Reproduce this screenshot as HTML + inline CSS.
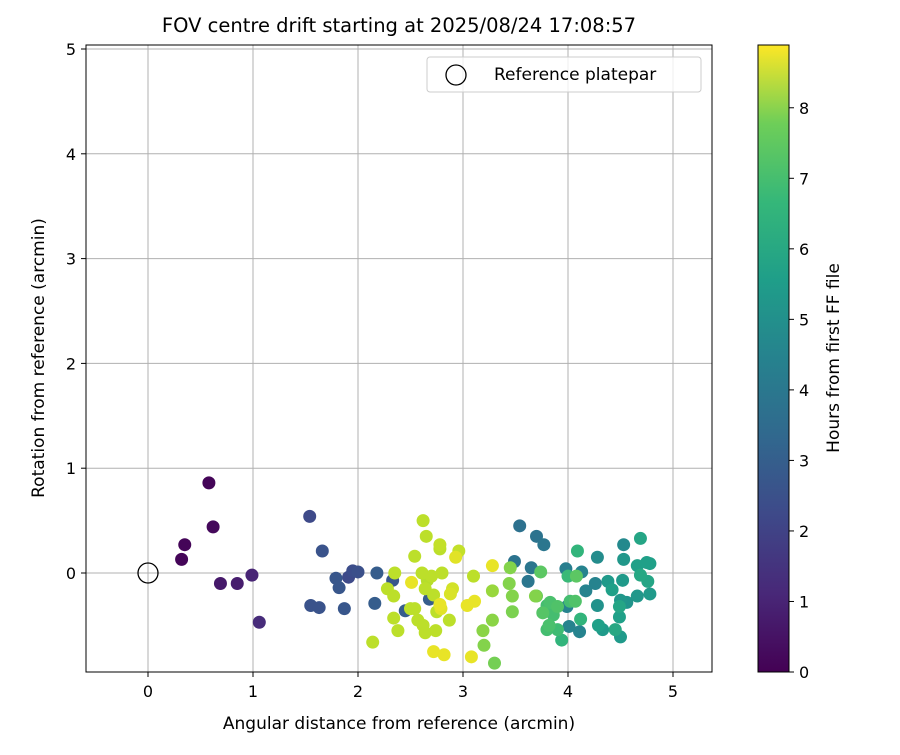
<!DOCTYPE html>
<html><head><meta charset="utf-8"><style>
body{margin:0;background:#fff;font-family:"Liberation Sans","DejaVu Sans",sans-serif}
svg text{font-family:"DejaVu Sans","Liberation Sans",sans-serif;fill:#000}
</style></head><body>
<svg id="chart" width="900" height="750">
<defs><linearGradient id="vir" x1="0" y1="1" x2="0" y2="0">
<stop offset="0" stop-color="#440154"/><stop offset="0.125" stop-color="#482878"/><stop offset="0.25" stop-color="#3e4989"/><stop offset="0.375" stop-color="#31688e"/><stop offset="0.5" stop-color="#26828e"/><stop offset="0.625" stop-color="#1f9e89"/><stop offset="0.75" stop-color="#35b779"/><stop offset="0.875" stop-color="#6ece58"/><stop offset="1" stop-color="#fde725"/></linearGradient></defs>
<text x="399" y="32" text-anchor="middle" font-size="19.5">FOV centre drift starting at 2025/08/24 17:08:57</text>
<g id="grid"></g>
<g id="pts"></g>
<rect x="86" y="45" width="626" height="627" fill="none" stroke="#000" stroke-width="1"/>
<g id="ticks"></g>
<text x="399" y="729" text-anchor="middle" font-size="17">Angular distance from reference (arcmin)</text>
<text transform="translate(44,358) rotate(-90)" text-anchor="middle" font-size="17">Rotation from reference (arcmin)</text>
<g>
<rect x="427" y="57" width="274" height="35" rx="3" fill="#fff" fill-opacity="0.8" stroke="#ccc"/>
<circle cx="456" cy="75" r="10" fill="none" stroke="#000" stroke-width="1.3"/>
<text x="494" y="80" font-size="17">Reference platepar</text>
</g>
<rect x="758" y="45" width="31" height="627" fill="url(#vir)" stroke="#000" stroke-width="1"/>
<g id="cbt"></g>
<text transform="translate(839,358) rotate(-90)" text-anchor="middle" font-size="17">Hours from first FF file</text>
</svg>
<script>
const xTicks=[0,1,2,3,4,5];
const yTicks=[0,1,2,3,4,5];
const cbTicks=[0,1,2,3,4,5,6,7,8];
const xs=[0.58,0.62,0.35,0.32,0.69,0.85,0.99,1.06,1.54,1.66,1.79,1.82,1.91,1.95,2.0,1.55,1.63,1.87,2.18,2.16,2.33,2.68,2.45,
2.62,2.65,2.78,2.78,2.96,2.93,2.54,3.28,3.45,3.49,3.65,3.54,3.70,2.35,2.61,2.70,2.80,2.51,2.66,3.10,3.44,3.62,2.28,2.34,2.64,2.72,2.90,2.88,3.28,3.47,3.69,3.11,3.04,2.78,2.79,2.50,2.54,2.75,3.47,2.34,2.57,2.62,2.87,3.28,2.38,2.64,2.74,3.19,2.14,3.20,2.72,2.82,3.08,3.30,
3.77,4.09,4.28,4.53,4.69,4.53,3.74,3.98,4.13,4.0,4.08,4.26,4.38,4.52,4.66,4.75,4.78,4.69,4.76,4.78,4.66,3.70,4.17,4.42,4.50,4.56,3.83,4.02,4.07,3.99,4.28,3.80,3.76,3.90,3.86,4.49,4.49,4.12,3.82,4.29,4.33,4.45,4.01,4.11,3.80,3.90,4.50,3.94];
const ys=[0.86,0.44,0.27,0.13,-0.10,-0.10,-0.02,-0.47,0.54,0.21,-0.05,-0.14,-0.04,0.02,0.01,-0.31,-0.33,-0.34,0.0,-0.29,-0.07,-0.25,-0.36,
0.50,0.35,0.27,0.23,0.21,0.15,0.16,0.07,0.05,0.11,0.05,0.45,0.35,0.0,0.0,-0.03,0.0,-0.09,-0.07,-0.03,-0.10,-0.08,-0.15,-0.22,-0.15,-0.21,-0.15,-0.20,-0.17,-0.22,-0.22,-0.27,-0.31,-0.30,-0.34,-0.34,-0.34,-0.37,-0.37,-0.43,-0.45,-0.50,-0.45,-0.45,-0.55,-0.57,-0.55,-0.55,-0.66,-0.69,-0.75,-0.78,-0.80,-0.86,
0.27,0.21,0.15,0.27,0.33,0.13,0.01,0.04,0.01,-0.03,-0.03,-0.10,-0.08,-0.07,0.07,0.10,0.09,-0.02,-0.08,-0.20,-0.22,-0.22,-0.17,-0.16,-0.26,-0.28,-0.28,-0.27,-0.27,-0.32,-0.31,-0.31,-0.38,-0.32,-0.40,-0.32,-0.42,-0.44,-0.50,-0.50,-0.54,-0.54,-0.51,-0.56,-0.54,-0.54,-0.61,-0.64];
const hours=[0.1,0.2,0.1,0.1,0.6,0.7,0.9,1.1,2.0,2.3,2.4,2.4,2.0,2.1,2.2,2.3,2.3,2.4,2.6,2.6,2.4,2.6,2.6,
8.0,8.0,8.1,8.0,8.1,8.5,8.0,8.6,7.2,3.4,3.5,3.3,3.4,8.0,8.0,8.0,8.0,8.6,7.9,8.0,7.2,3.5,8.0,8.0,8.0,8.0,8.3,8.4,7.5,7.2,7.2,8.6,8.6,8.6,8.5,8.0,8.0,8.0,7.1,8.0,8.0,8.0,8.0,7.3,8.0,8.0,8.0,7.3,8.0,7.2,8.6,8.6,8.6,7.0,
3.5,5.8,4.3,4.2,5.2,4.7,6.6,3.8,4.0,6.0,6.6,4.0,4.8,4.8,5.0,5.0,5.0,5.3,5.2,4.8,4.7,6.8,4.0,5.0,4.7,4.6,6.3,6.2,6.4,4.0,4.5,6.2,6.5,6.4,6.2,5.2,5.0,5.8,6.3,5.0,4.8,5.3,4.0,4.0,6.2,6.1,4.8,5.8];
const X=v=>148+v*105, Y=v=>573-v*104.8, C=h=>672-h*(627/8.89);
const vir=[[68,1,84],[72,40,120],[62,73,137],[49,104,142],[38,130,142],[31,158,137],[53,183,121],[110,206,88],[181,222,43],[253,231,37]];
function col(h){let t=Math.max(0,Math.min(1,h/8.89))*9,i=Math.min(8,Math.floor(t)),f=t-i,a=vir[i],b=vir[i+1];
return 'rgb('+a.map((v,k)=>Math.round(v+(b[k]-v)*f)).join(',')+')';}
const NS='http://www.w3.org/2000/svg';
function mk(p,t,at,txt){const e=document.createElementNS(NS,t);for(const k in at)e.setAttribute(k,at[k]);if(txt!==undefined)e.textContent=txt;p.appendChild(e);return e;}
const g=document.getElementById('grid'),tk=document.getElementById('ticks'),pts=document.getElementById('pts'),cb=document.getElementById('cbt');
xTicks.forEach(v=>{const l=mk(g,'line',{x1:X(v),x2:X(v),y1:45,y2:672,stroke:'#b0b0b0','stroke-width':1});


mk(tk,'line',{x1:X(v),x2:X(v),y1:672,y2:677,stroke:'#000'});
const t=mk(tk,'text',{x:X(v),y:697,'text-anchor':'middle','font-size':16},String(v));

});
yTicks.forEach(v=>{const l=mk(g,'line',{x1:86,x2:712,y1:Y(v),y2:Y(v),stroke:'#b0b0b0','stroke-width':1});


mk(tk,'line',{x1:81,x2:86,y1:Y(v),y2:Y(v),stroke:'#000'});
const t=mk(tk,'text',{x:76,y:Y(v)+6,'text-anchor':'end','font-size':16},String(v));

});
const idx=hours.map((h,i)=>i).sort((a,b)=>hours[a]-hours[b]);
idx.forEach(i=>{const c=mk(pts,'circle',{cx:X(xs[i]),cy:Y(ys[i]),r:6.5,fill:col(hours[i])});

});
const ref=mk(pts,'circle',{cx:X(0),cy:Y(0),r:10,fill:'none',stroke:'#000','stroke-width':1.3});


cbTicks.forEach(v=>{mk(cb,'line',{x1:789,x2:794,y1:C(v),y2:C(v),stroke:'#000'});
const t=mk(cb,'text',{x:799,y:C(v)+6,'font-size':16},String(v));

});
</script>
</body></html>
